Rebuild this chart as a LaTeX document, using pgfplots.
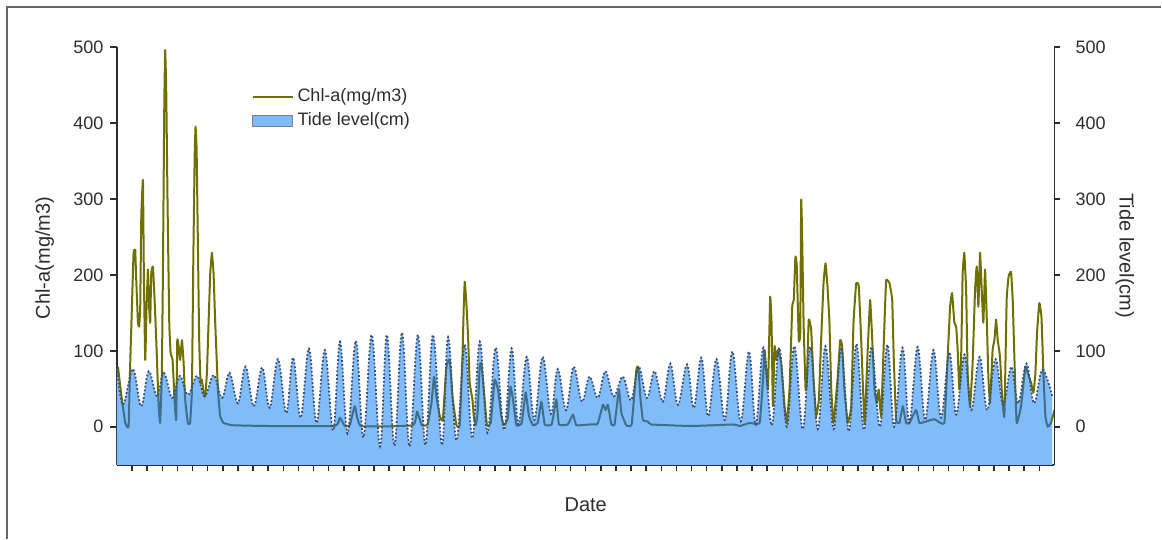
\documentclass[border=0pt]{standalone}
\usepackage{fontspec}
\setmainfont{Liberation Sans}
\usepackage{pgfplots}
\pgfplotsset{compat=1.18}
\usepgfplotslibrary{fillbetween}
\usepackage{pgfplotstable}
\definecolor{chl}{RGB}{112,112,0}
\definecolor{tidefill}{RGB}{128,188,250}
\definecolor{tideline}{RGB}{60,80,115}
\definecolor{axc}{RGB}{45,45,45}

\pgfplotstableread{
x y
0 78
0.4 29
1.05 76
1.6 27
2.1 73
2.65 40
3.1 71
3.65 38
4.15 67
4.7 42
5.3 67
5.8 40
6.4 68
6.95 38
7.45 71
8.0 31
8.5 79
9.05 27
9.6 78
10.1 25
10.65 89
11.2 18
11.65 91
12.15 12
12.7 103
13.2 5
13.75 101
14.3 -5
14.75 112
15.25 -9
15.8 113
16.3 -14
16.85 121
17.4 -26
17.85 121
18.35 -25
18.85 124
19.35 -26
19.9 121
20.4 -24
20.9 121
21.5 -24
21.9 118
22.45 -18
23.0 108
23.5 -15
24.0 112
24.5 -8
25.05 104
25.6 -4
26.1 103
26.55 3
27.1 92
27.6 9
28.15 92
28.7 17
29.15 76
29.7 22
30.2 79
30.75 33
31.25 66
31.8 38
32.3 73
32.85 40
33.45 66
34.0 35
34.5 79
35.05 38
35.55 73
36.1 33
36.6 83
37.1 29
37.7 82
38.15 25
38.65 91
39.1 14
39.65 89
40.2 9
40.7 99
41.25 7
41.8 99
42.25 3
42.75 104
43.3 2
43.8 104
44.3 0
44.8 106
45.35 -3
45.85 105
46.35 -3
46.85 106
47.4 -3
47.9 104
48.4 -6
48.9 109
49.4 -4
49.9 105
50.45 0
50.95 108
51.4 0
51.95 104
52.4 5
52.95 105
53.45 9
54.0 101
54.5 12
55.05 98
55.5 16
56.05 95
56.5 22
57.05 92
57.55 22
58.1 89
58.6 29
59.15 79
59.6 31
60.15 83
60.65 31
61.2 75
61.85 40
}\tidetab

\pgfplotstableread{
x y
0.07 79
0.3 40
0.55 5
0.77 0
0.86 71
0.99 158
1.10 229
1.21 233
1.26 202
1.39 137
1.47 132
1.54 158
1.61 277
1.72 325
1.78 202
1.87 88
1.96 158
2.05 207
2.13 158
2.20 137
2.27 202
2.38 211
2.49 167
2.60 114
2.76 27
2.86 5
2.97 71
3.04 202
3.13 421
3.19 496
3.26 443
3.35 290
3.46 137
3.55 97
3.68 88
3.81 36
3.92 9
3.99 114
4.08 106
4.18 88
4.30 114
4.41 84
4.51 36
4.69 5
4.84 5
4.96 49
5.04 202
5.14 356
5.20 395
5.27 364
5.35 246
5.44 114
5.53 58
5.62 62
5.73 45
5.84 40
5.95 71
6.06 137
6.17 202
6.28 229
6.39 202
6.50 137
6.68 49
6.83 14
7.05 5
7.67 2
10 1
14.41 1
14.74 12
15.07 1
15.40 2
15.73 27
16.13 1
19.56 2
19.85 20
20.16 2
20.55 3
20.80 31
20.97 66
21.13 40
21.35 14
21.55 9
21.79 79
22.01 88
22.19 40
22.45 2
22.67 2
22.85 92
22.93 154
23.00 191
23.11 163
23.22 119
23.33 58
23.51 36
23.60 14
23.73 2
23.86 20
23.99 79
24.10 84
24.26 49
24.47 2
24.72 5
24.98 62
25.20 49
25.42 14
25.58 2
25.84 10
26.02 53
26.19 36
26.42 2
26.77 5
27.03 45
27.25 14
27.51 2
27.83 5
28.07 33
28.29 3
28.75 3
29.06 36
29.23 3
29.81 3
30.16 16
30.38 2
31.26 3
31.79 4
32.14 29
32.32 22
32.47 29
32.70 3
32.91 3
33.20 49
33.36 18
33.69 2
34.04 3
34.35 75
34.48 79
34.61 40
34.78 9
35.11 7
35.34 3
38 1
40.75 3
41.2 1
41.84 5
42.5 5
42.72 60
42.83 101
43.05 49
43.20 171
43.29 137
43.38 27
43.49 106
43.60 88
43.71 101
43.93 84
44.15 27
44.30 5
44.48 49
44.66 158
44.76 167
44.87 224
44.96 211
45.09 114
45.19 124
45.25 299
45.32 246
45.41 137
45.54 49
45.62 58
45.75 141
45.91 128
46.06 66
46.24 14
46.42 36
46.57 114
46.73 189
46.86 215
46.99 185
47.12 137
47.24 49
47.39 5
47.67 66
47.83 114
47.96 106
48.11 49
48.33 5
48.56 27
48.71 137
48.89 189
49.06 185
49.22 114
49.44 5
49.65 101
49.81 167
49.94 119
50.10 49
50.25 31
50.38 49
50.54 14
50.76 137
50.87 193
51.09 189
51.27 167
51.37 92
51.53 9
51.75 5
51.97 27
52.19 5
52.41 5
52.85 22
53.07 5
53.51 7
54.06 10
54.72 5
54.94 92
55.10 158
55.23 176
55.38 137
55.50 132
55.60 101
55.71 49
55.83 92
55.93 202
56.04 229
56.16 180
56.26 71
56.42 27
56.59 84
56.75 180
56.86 211
56.97 158
57.08 229
57.19 180
57.30 137
57.41 207
57.52 145
57.63 66
57.74 31
57.91 101
58.03 114
58.14 141
58.25 114
58.40 92
58.54 40
58.69 14
58.84 167
58.97 198
59.13 204
59.24 167
59.35 92
59.50 5
59.79 27
60.08 79
60.23 71
60.45 58
60.61 45
60.74 71
60.85 124
61.00 163
61.14 145
61.27 71
61.40 14
61.55 0
61.77 5
62.0 22
}\chltab

\begin{document}
\begin{tikzpicture}
\path (0,0) rectangle (581pt,269.5pt);
\draw[gray!80!black, line width=0.6pt] (3.5pt,0) -- (3.5pt,266pt) -- (581pt,266pt);
\begin{axis}[
  at={(58.5pt,37pt)}, anchor=south west,
  scale only axis, width=469pt, height=209pt,
  xmin=0, xmax=62, ymin=-50, ymax=500,
  axis x line*=bottom, axis y line*=left,
  axis line style={-, axc, line width=0.8pt},
  tick style={axc, line width=0.75pt},
  tick align=outside,
  major tick length=3.3pt,
  xtick={1,...,61}, xticklabels={},
  ytick={0,100,...,500},
  /pgf/number format/assume math mode=true,
  tick label style={font=\fontsize{9pt}{10pt}\selectfont, text=axc},
  xlabel={Date}, ylabel={Chl-a(mg/m3)},
  label style={font=\fontsize{10pt}{12pt}\selectfont, text=axc},
  xlabel style={at={(axis description cs:0.5,-0.096)}, anchor=center},
  ylabel style={at={(axis description cs:-0.077,0.495)}, anchor=center},
  fill between/on layer=main,
  legend style={at={(axis description cs:0.141,0.915)}, anchor=north west,
    draw=none, fill=none, font=\fontsize{9pt}{10pt}\selectfont, text=axc,
    row sep=0pt, inner sep=1pt},
  legend cell align=left,
]
\addplot[name path=tide, draw=none, smooth, tension=0.6, forget plot] table {\tidetab};
\addplot[name path=bot, draw=none, forget plot] coordinates {(0,-50) (61.85,-50)};
\addplot[fill=tidefill, draw=none, forget plot] fill between[of=tide and bot];
\addplot[chl, line width=1pt, line join=round, smooth, tension=0.2, forget plot] table {\chltab};
\addplot[fill=tidefill, draw=none, fill opacity=0.8, blend mode=color, forget plot] fill between[of=tide and bot];
\addplot[tideline, densely dotted, line width=0.9pt, smooth, tension=0.6, forget plot] table {\tidetab};
\addlegendimage{legend image code/.code={\draw[chl, line width=1pt] (0pt,0pt) -- (20pt,0pt);}}
\addlegendentry{Chl-a(mg/m3)}
\addlegendimage{legend image code/.code={\draw[fill=tidefill, draw=gray, line width=0.5pt] (0pt,-2.8pt) rectangle (20pt,2.8pt);}}
\addlegendentry{Tide level(cm)}
\end{axis}
\begin{axis}[
  at={(58.5pt,37pt)}, anchor=south west,
  scale only axis, width=469pt, height=209pt,
  xmin=0, xmax=62, ymin=-50, ymax=500,
  axis x line=none, axis y line*=right,
  axis line style={-, axc, line width=0.8pt},
  tick style={axc, line width=0.75pt},
  tick align=outside,
  major tick length=3pt,
  ytick={0,100,...,500},
  /pgf/number format/assume math mode=true,
  tick label style={font=\fontsize{9pt}{10pt}\selectfont, text=axc},
  yticklabel style={xshift=4pt},
  ylabel={Tide level(cm)},
  label style={font=\fontsize{10pt}{12pt}\selectfont, text=axc},
  ylabel style={at={(axis description cs:1.075,0.5)}, anchor=center, rotate=180},
]
\end{axis}
\end{tikzpicture}
\end{document}
